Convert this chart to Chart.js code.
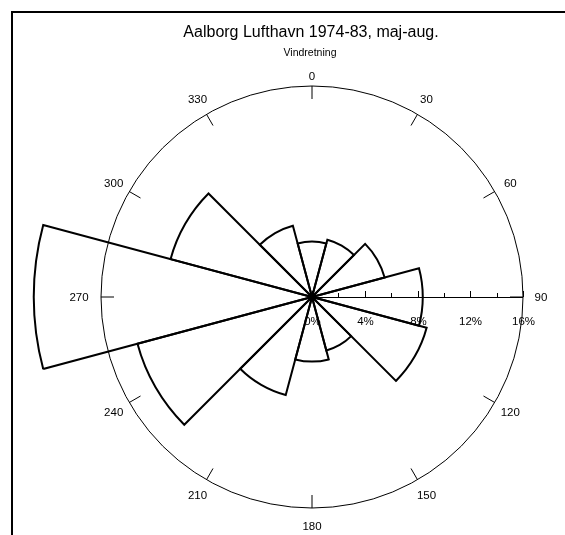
<!DOCTYPE html>
<html><head><meta charset="utf-8">
<script src="https://cdn.jsdelivr.net/npm/chart.js@4/dist/chart.umd.min.js"></script>
<style>html,body{margin:0;padding:0;background:#fff;overflow:hidden}#wrap{width:565px;height:535px;position:relative}canvas{display:block}</style>
</head><body><div id="wrap"><canvas id="c" width="565" height="535" style="width:565px;height:535px"></canvas></div>
<script>
// Wind direction sectors (degrees, compass) and frequency (%)
const directions = ['0','30','60','90','120','150','180','210','240','270','300','330'];
const frequency  = [4.2, 4.5, 5.7, 8.4, 9.0, 4.2, 4.9, 7.7, 13.7, 21.1, 11.1, 5.6];
const percentTicks = [0, 4, 8, 12, 16];
const minorTicks = [2, 6, 10, 14];
const chartTitle = 'Aalborg Lufthavn 1974-83, maj-aug.';
const axisTitle = 'Vindretning';

const FONT = '"Liberation Sans", Arial, sans-serif';

const roseDecor = {
  id: 'roseDecor',
  beforeDatasetsDraw(chart) {
    const s = chart.scales.r, ctx = chart.ctx;
    const cx = s.xCenter, cy = s.yCenter;
    const R = s.getDistanceFromCenterForValue(s.max);
    ctx.save();
    // frame
    ctx.strokeStyle = '#000';
    ctx.lineWidth = 2;
    ctx.strokeRect(12, 12, 800, 800);
    // titles
    ctx.fillStyle = '#000';
    ctx.textAlign = 'center';
    ctx.textBaseline = 'middle';
    ctx.font = '16px ' + FONT;
    ctx.fillText(chartTitle, 311, 33);
    ctx.font = '10.5px ' + FONT;
    ctx.fillText(axisTitle, 310, 53);
    // outer circle
    ctx.lineWidth = 1;
    ctx.beginPath();
    ctx.arc(cx, cy, R, 0, Math.PI * 2);
    ctx.stroke();
    // compass ticks and labels
    ctx.font = '11.5px ' + FONT;
    directions.forEach((d) => {
      const deg = parseFloat(d);
      const t = deg * Math.PI / 180;
      const sx = Math.sin(t), sy = -Math.cos(t);
      ctx.beginPath();
      ctx.moveTo(cx + sx * R, cy + sy * R);
      ctx.lineTo(cx + sx * (R - 13), cy + sy * (R - 13));
      ctx.stroke();
      let lr = R + 18;
      if (deg === 0) lr = R + 10;
      if (deg === 270) lr = R + 22;
      ctx.fillText(d, cx + sx * lr, cy + sy * lr + 1);
    });
    // percent axis along 90
    ctx.beginPath();
    ctx.moveTo(cx, cy + 0.5);
    ctx.lineTo(cx + R, cy + 0.5);
    ctx.stroke();
    percentTicks.forEach(v => {
      const x = Math.round(cx + s.getDistanceFromCenterForValue(v)) + 0.5;
      ctx.beginPath(); ctx.moveTo(x, cy); ctx.lineTo(x, cy - 6); ctx.stroke();
      ctx.fillText(v + '%', x, cy + 25);
    });
    minorTicks.forEach(v => {
      const x = Math.round(cx + s.getDistanceFromCenterForValue(v)) + 0.5;
      ctx.beginPath(); ctx.moveTo(x, cy); ctx.lineTo(x, cy - 4); ctx.stroke();
    });
    ctx.restore();
  }
};

new Chart(document.getElementById('c'), {
  type: 'polarArea',
  data: {
    labels: directions,
    datasets: [{
      data: frequency,
      backgroundColor: 'rgba(0,0,0,0)',
      borderColor: '#000',
      borderWidth: 2,
      borderJoinStyle: 'miter',
      clip: false
    }]
  },
  options: {
    responsive: false,
    animation: false,
    devicePixelRatio: 1,
    layout: { padding: { left: 101, right: 42, top: 86, bottom: 27 } },
    plugins: { legend: { display: false }, tooltip: { enabled: false }, title: { display: false } },
    scales: {
      r: {
        min: 0, max: 16,
        startAngle: -15,
        grid: { display: false },
        angleLines: { display: false },
        ticks: { display: false },
        pointLabels: { display: false }
      }
    }
  },
  plugins: [roseDecor]
});
</script>
</body></html>
